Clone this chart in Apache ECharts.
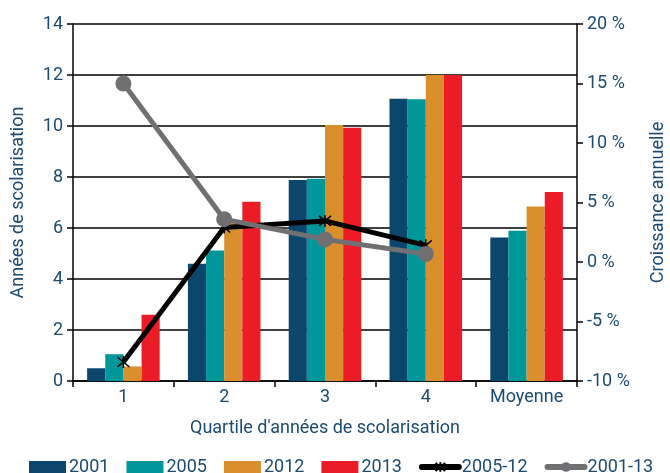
<!DOCTYPE html>
<html>
<head>
<meta charset="utf-8">
<script src="https://cdn.jsdelivr.net/npm/echarts@6/dist/echarts.min.js"></script>
<style>html,body{margin:0;padding:0;background:#fff;}</style>
</head>
<body>
<div id="chart" style="width:670px;height:473px;"></div>
<script>
    // données
    let categories = ['1', '2', '3', '4', 'Moyenne'];
    let s2001 = [0.5, 4.6, 7.88, 11.07, 5.63];
    let s2005 = [1.05, 5.12, 7.93, 11.05, 5.89];
    let s2012 = [0.57, 6.3, 10.04, 12.0, 6.84];
    let s2013 = [2.6, 7.03, 9.93, 12.0, 7.41];
    let g0512 = [-8.4, 2.9, 3.45, 1.4];
    let g0113 = [15.0, 3.6, 1.9, 0.67];

    let txt = '#1b4b72';
    let font = 'Roboto';
    let asterisk = 'path://M0,0 L10,10 M10,0 L0,10 M5,-1 L5,11';

    function bar(name, data, color) {
        return {name: name, type: 'bar', data: data, itemStyle: {color: color}, barGap: '0%', barCategoryGap: '28%'};
    }

    let myChart = echarts.init(document.getElementById('chart'));
    let option = {
        animation: false,
        textStyle: {fontFamily: font},
        grid: {left: 73, right: 93, top: 24, bottom: 92, containLabel: false, outerBoundsMode: 'none'},
        legend: {
            top: 453, left: 24, itemGap: 17, itemWidth: 37, itemHeight: 12,
            textStyle: {color: txt, fontSize: 18, fontFamily: font, padding: [0, 0, 0, -2]},
            data: [
                {name: '2001', icon: 'rect'},
                {name: '2005', icon: 'rect'},
                {name: '2012', icon: 'rect'},
                {name: '2013', icon: 'rect'},
                {name: '2005-12', lineStyle: {width: 6, cap: 'round'}},
                {name: '2001-13', lineStyle: {width: 6, cap: 'round'}}
            ]
        },
        xAxis: {
            type: 'category', data: categories,
            name: "Quartile d'années de scolarisation", nameLocation: 'middle', nameGap: 38,
            nameTextStyle: {color: txt, fontSize: 18},
            axisLine: {lineStyle: {color: '#000', width: 1.5}},
            axisTick: {show: true, length: 6, lineStyle: {color: '#000', width: 1.5}},
            axisLabel: {color: txt, fontSize: 18, margin: 7}
        },
        yAxis: [
            {
                type: 'value', min: 0, max: 14, interval: 2,
                name: 'Années de scolarisation', nameLocation: 'middle', nameGap: 46,
                nameTextStyle: {color: txt, fontSize: 18},
                axisLine: {show: true, lineStyle: {color: '#000', width: 1.5}},
                axisTick: {show: true, length: 6, lineStyle: {color: '#000', width: 1.5}},
                axisLabel: {color: txt, fontSize: 18, margin: 10},
                splitLine: {lineStyle: {color: '#000', width: 1.5}}
            },
            {
                type: 'value', min: -10, max: 20, interval: 5, position: 'right',
                name: 'Croissance annuelle', nameLocation: 'middle', nameGap: 72,
                nameTextStyle: {color: txt, fontSize: 18},
                axisLine: {show: true, lineStyle: {color: '#000', width: 1.5}},
                axisTick: {show: true, length: 6, lineStyle: {color: '#000', width: 1.5}},
                axisLabel: {color: txt, fontSize: 18, margin: 10, formatter: '{value} %'},
                splitLine: {show: false}
            }
        ],
        series: [
            bar('2001', s2001, '#0b476d'),
            bar('2005', s2005, '#00979a'),
            bar('2012', s2012, '#d98f2b'),
            bar('2013', s2013, '#ec1c26'),
            {
                name: '2005-12', type: 'line', yAxisIndex: 1, data: g0512,
                symbol: asterisk, symbolSize: 12,
                lineStyle: {color: '#000', width: 5},
                itemStyle: {color: '#000', borderColor: '#000', borderWidth: 1.5}
            },
            {
                name: '2001-13', type: 'line', yAxisIndex: 1, data: g0113,
                symbol: 'circle', symbolSize: 16,
                lineStyle: {color: '#707073', width: 5},
                itemStyle: {color: '#707073'}
            }
        ]
    };
    myChart.setOption(option);
</script>
</body>
</html>
